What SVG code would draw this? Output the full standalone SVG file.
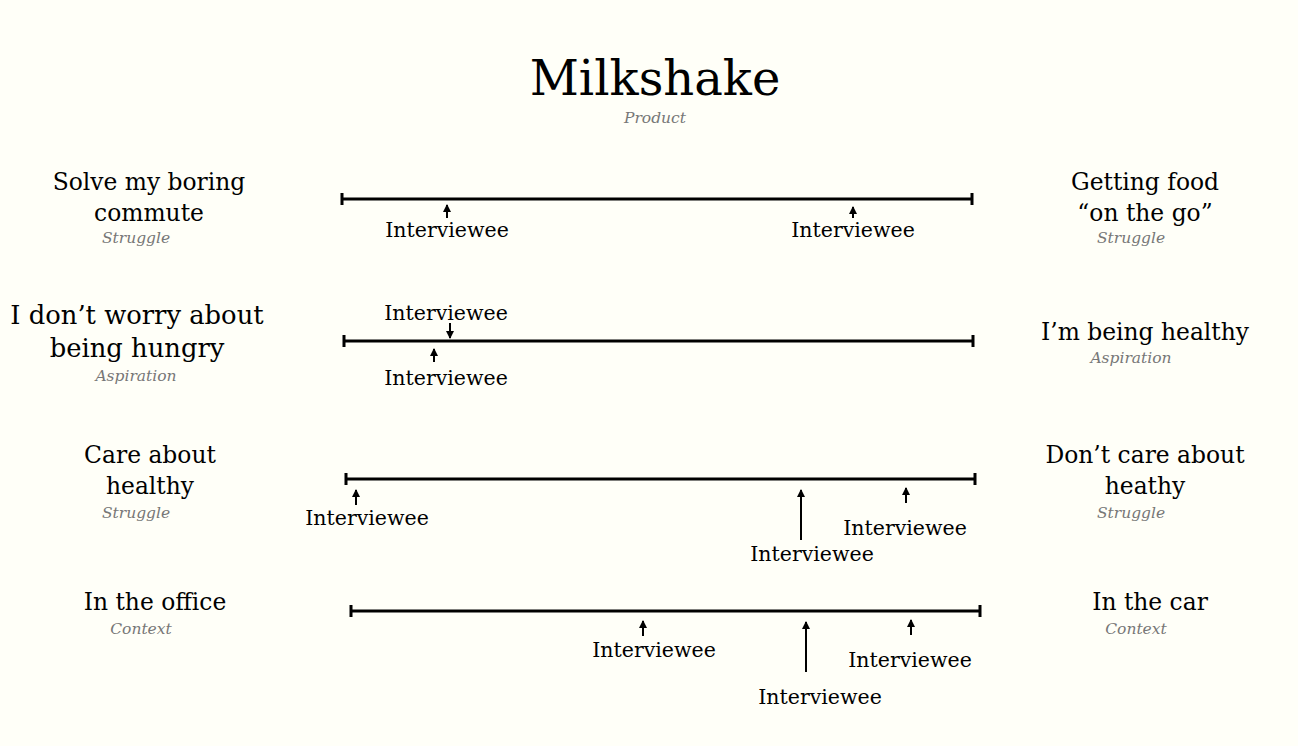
<svg xmlns="http://www.w3.org/2000/svg" width="1298" height="746" viewBox="0 0 1298 746">
<style>
text{font-family:"DejaVu Serif","Liberation Serif",serif;fill:#000;text-anchor:middle}
.title{font-size:48px}
.lab{font-size:23.4px}
.big{font-size:25.8px}
.iv{font-size:20.5px}
.sub{font-size:15.5px;font-style:italic;fill:#777}
.axis{stroke:#000;stroke-width:3;fill:none}
.arr{stroke:#000;stroke-width:2;fill:none;marker-end:url(#ah)}
</style>
<defs>
<marker id="ah" viewBox="0 0 8 8" refX="7" refY="4" markerWidth="4" markerHeight="4" orient="auto" markerUnits="strokeWidth">
<path d="M0,0 L8,4 L0,8 z" fill="#000"/>
</marker>
</defs>
<rect width="1298" height="746" fill="#fffff8"/>
<g id="title">
<text class="title" x="655" y="95">Milkshake</text>
<text class="sub" x="655" y="123">Product</text>
</g>
<g id="row1">
<g id="r1-left"><text class="lab" x="149" y="190">Solve my boring</text><text class="lab" x="149" y="221">commute</text><text class="sub" x="136" y="243">Struggle</text></g>
<g id="r1-right"><text class="lab" x="1145" y="190">Getting food</text><text class="lab" x="1145" y="221">“on the go”</text><text class="sub" x="1131" y="243">Struggle</text></g>
<g id="r1-axis"><path class="axis" d="M342,193 V205 M342,199 H972 M972,193 V205"/></g>
<g id="r1-i1"><text class="iv" x="447" y="237">Interviewee</text></g>
<g id="r1-i2"><text class="iv" x="853" y="237">Interviewee</text></g>
</g>
<g id="row2">
<g id="r2-left"><text class="big" x="137" y="324">I don’t worry about</text><text class="big" x="137" y="357">being hungry</text><text class="sub" x="136" y="381">Aspiration</text></g>
<g id="r2-right"><text class="lab" x="1145" y="340">I’m being healthy</text><text class="sub" x="1131" y="363">Aspiration</text></g>
<g id="r2-axis"><path class="axis" d="M344,335 V347 M344,341 H973 M973,335 V347"/></g>
<g id="r2-i1"><text class="iv" x="446" y="320">Interviewee</text></g>
<g id="r2-i2"><text class="iv" x="446" y="385">Interviewee</text></g>
</g>
<g id="row3">
<g id="r3-left"><text class="lab" x="150" y="463">Care about</text><text class="lab" x="150" y="494">healthy</text><text class="sub" x="136" y="518">Struggle</text></g>
<g id="r3-right"><text class="lab" x="1145" y="463">Don’t care about</text><text class="lab" x="1145" y="494">heathy</text><text class="sub" x="1131" y="518">Struggle</text></g>
<g id="r3-axis"><path class="axis" d="M346,473 V485 M346,479 H975 M975,473 V485"/></g>
<g id="r3-i1"><text class="iv" x="367" y="525">Interviewee</text></g>
<g id="r3-i2"><text class="iv" x="812" y="561">Interviewee</text></g>
<g id="r3-i3"><text class="iv" x="905" y="535">Interviewee</text></g>
</g>
<g id="row4">
<g id="r4-left"><text class="lab" x="155" y="610">In the office</text><text class="sub" x="141" y="634">Context</text></g>
<g id="r4-right"><text class="lab" x="1150" y="610">In the car</text><text class="sub" x="1136" y="634">Context</text></g>
<g id="r4-axis"><path class="axis" d="M351,605 V617 M351,611 H980 M980,605 V617"/></g>
<g id="r4-i1"><text class="iv" x="654" y="657">Interviewee</text></g>
<g id="r4-i2"><text class="iv" x="820" y="704">Interviewee</text></g>
<g id="r4-i3"><text class="iv" x="910" y="667">Interviewee</text></g>
</g>
<g id="connectors">
<path class="arr" d="M447,218 V205"/>
<path class="arr" d="M853,218 V207"/>
<path class="arr" d="M450,323 V338"/>
<path class="arr" d="M434,362 V349"/>
<path class="arr" d="M356,505 V490"/>
<path class="arr" d="M801,540 V490"/>
<path class="arr" d="M906,503 V488"/>
<path class="arr" d="M643,636 V621"/>
<path class="arr" d="M806,672 V622"/>
<path class="arr" d="M911,635 V620"/>
</g>
</svg>
